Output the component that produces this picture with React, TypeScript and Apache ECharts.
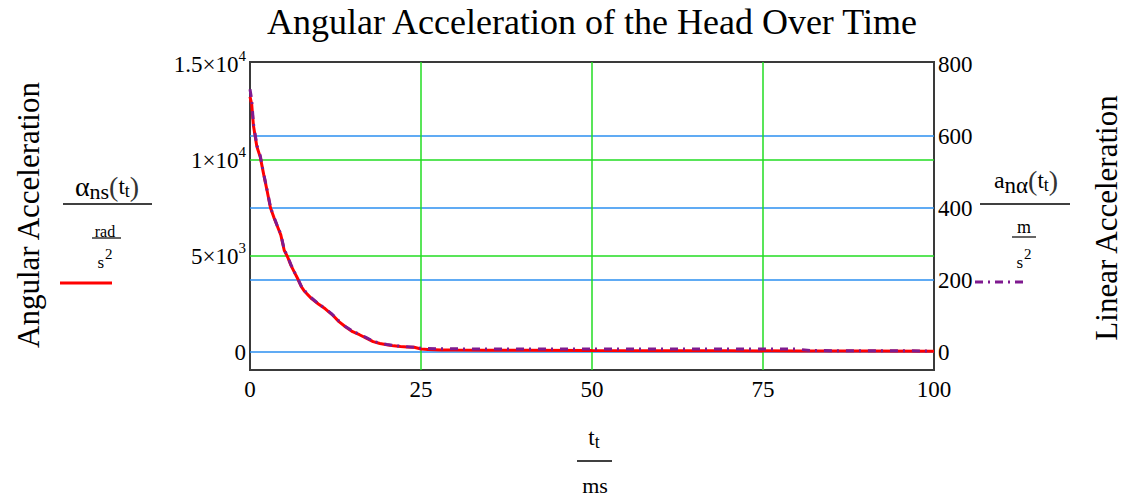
import React, { useEffect, useRef } from "react";
import * as echarts from "echarts";

// time in ms
const timeMs = [0, 0.25, 0.5, 1, 1.5, 2, 2.5, 3, 3.5, 4, 4.5, 5, 5.5, 6, 6.5, 7, 7.5, 8, 9, 10, 11, 12, 13, 14, 15, 16, 17, 18, 19, 20, 21, 22, 23, 24, 25, 26, 28, 30, 35, 40, 50, 60, 70, 80, 82, 90, 100];
// angular acceleration alpha_ns (rad/s^2), left axis
const angularAcc = [13300, 12900, 11800, 10700, 10150, 9250, 8400, 7500, 7000, 6550, 6100, 5300, 4950, 4500, 4150, 3800, 3400, 3150, 2780, 2500, 2250, 1950, 1580, 1300, 1060, 900, 720, 540, 440, 380, 320, 290, 265, 245, 160, 130, 110, 100, 90, 85, 75, 68, 62, 55, 54, 50, 45];
// linear acceleration a_n_alpha (m/s^2), right axis
const linearAcc = [730, 700, 635, 575, 545, 495, 450, 402, 375, 350, 328, 285, 265, 242, 222, 203, 183, 170, 150, 134, 121, 105, 86, 70, 58, 49, 40, 30, 25, 21, 18, 16, 14.5, 13, 10.5, 9.5, 9, 8.7, 8.5, 8.4, 8.3, 8.2, 8.1, 8, 4, 3.5, 3];

const xTicks = [0, 25, 50, 75, 100];
const leftTicks = [0, 5000, 10000, 15000];
const leftGridTicks = [5000, 10000];
const rightTicks = [0, 200, 400, 600, 800];
const rightGridTicks = [0, 200, 400, 600];

const titleText = "Angular Acceleration of the Head Over Time";
const leftTitle = "Angular Acceleration";
const rightTitle = "Linear Acceleration";

const FONT = "Liberation Serif, Times New Roman, serif";

function sciLabel(v: number): string {
  if (v === 0) return "{m|0}";
  const e = Math.floor(Math.log10(v));
  const m = +(v / Math.pow(10, e)).toFixed(2);
  return `{m|${m}×10}{s|${e}}`;
}

export default function App() {
  const ref = useRef<HTMLDivElement>(null);
  useEffect(() => {
    if (!ref.current) return;
    const chart = echarts.init(ref.current, null, { renderer: "svg" });
    const green = "#22dd22";
    const blue = "#2b8ff0";
    const sq = {
      s: { fontFamily: FONT, fontSize: 17, fill: "#000", padding: [6, 0, 0, 0] },
      e: { fontFamily: FONT, fontSize: 15, fill: "#000", padding: [0, 0, 10, 1] },
    };
    const option: any = {
      animation: false,
      backgroundColor: "#ffffff",
      title: {
        text: titleText,
        left: 592,
        top: 4,
        padding: 0,
        textAlign: "center",
        textStyle: { fontFamily: FONT, fontSize: 36, fontWeight: "normal", color: "#000" },
      },
      grid: {
        left: 250,
        top: 62,
        width: 684,
        height: 308,
        show: true,
        borderColor: "#3a3a3a",
        borderWidth: 2,
        backgroundColor: "transparent",
      },
      xAxis: {
        type: "value",
        min: xTicks[0],
        max: xTicks[xTicks.length - 1],
        interval: 25,
        axisLine: { show: false },
        axisTick: { show: false },
        axisLabel: { fontFamily: FONT, fontSize: 23, color: "#000", margin: 8 },
        splitLine: { show: true, showMinLine: false, showMaxLine: false, lineStyle: { color: green, width: 1.5 } },
      },
      yAxis: [
        {
          type: "value",
          min: -937.5,
          max: 15104.2,
          axisLine: { show: false },
          axisTick: { show: false, customValues: leftGridTicks },
          axisLabel: {
            customValues: leftTicks,
            margin: 4,
            fontFamily: FONT,
            formatter: (v: number) => sciLabel(v),
            rich: {
              m: { fontFamily: FONT, fontSize: 23, color: "#000" },
              s: { fontFamily: FONT, fontSize: 15, color: "#000", padding: [0, 0, 16, 0] },
            },
          },
          splitLine: { show: true, lineStyle: { color: green, width: 1.5 } },
        },
        {
          type: "value",
          min: -50,
          max: 805.56,
          position: "right",
          axisLine: { show: false },
          axisTick: { show: false, customValues: rightGridTicks },
          axisLabel: { customValues: rightTicks, margin: 4, fontFamily: FONT, fontSize: 23, color: "#000" },
          splitLine: { show: true, lineStyle: { color: blue, width: 1.5 } },
        },
      ],
      series: [
        {
          type: "line",
          yAxisIndex: 0,
          data: timeMs.map((t, i) => [t, angularAcc[i]]),
          showSymbol: false,
          lineStyle: { color: "#ff0000", width: 3 },
          z: 3,
        },
        {
          type: "line",
          yAxisIndex: 1,
          data: timeMs.map((t, i) => [t, linearAcc[i]]),
          showSymbol: false,
          lineStyle: { color: "#7f1a8f", width: 3, type: [8, 5, 2, 7] },
          z: 4,
        },
      ],
      graphic: [
        // axis titles
        { type: "text", x: 28, y: 215, rotation: Math.PI / 2, style: { text: leftTitle, fontFamily: FONT, fontSize: 31, fill: "#000", textAlign: "center", textVerticalAlign: "middle" } },
        { type: "text", x: 1106, y: 218, rotation: Math.PI / 2, style: { text: rightTitle, fontFamily: FONT, fontSize: 31, fill: "#000", textAlign: "center", textVerticalAlign: "middle" } },
        // left expression
        {
          type: "text", x: 107, y: 186,
          style: {
            text: "{a|α}{b|ns}{p|(}{c|t}{d|t}{p|)}",
            textAlign: "center", textVerticalAlign: "middle", fill: "#000",
            rich: {
              a: { fontFamily: FONT, fontSize: 28, fill: "#000" },
              b: { fontFamily: FONT, fontSize: 22, fill: "#000", padding: [10, 0, 0, 0] },
              p: { fontFamily: FONT, fontSize: 28, fill: "#333" },
              c: { fontFamily: FONT, fontSize: 23, fill: "#000" },
              d: { fontFamily: FONT, fontSize: 18, fill: "#000", padding: [10, 0, 0, 0] },
            },
          },
        },
        { type: "line", shape: { x1: 63, y1: 204, x2: 152, y2: 204 }, style: { stroke: "#000", lineWidth: 1.5 } },
        { type: "text", x: 105, y: 231, style: { text: "rad", fontFamily: FONT, fontSize: 16, fill: "#000", textAlign: "center", textVerticalAlign: "middle" } },
        { type: "line", shape: { x1: 92, y1: 238, x2: 121, y2: 238 }, style: { stroke: "#000", lineWidth: 1.2 } },
        {
          type: "text", x: 105, y: 259,
          style: { text: "{s|s}{e|2}", textAlign: "center", textVerticalAlign: "middle", rich: sq },
        },
        { type: "line", shape: { x1: 60, y1: 283, x2: 112, y2: 283 }, style: { stroke: "#ff0000", lineWidth: 3 } },
        // right expression
        {
          type: "text", x: 1026, y: 180,
          style: {
            text: "{a|a}{b|nα}{p|(}{c|t}{d|t}{p|)}",
            textAlign: "center", textVerticalAlign: "middle", fill: "#000",
            rich: {
              a: { fontFamily: FONT, fontSize: 24, fill: "#000" },
              b: { fontFamily: FONT, fontSize: 23, fill: "#000", padding: [10, 0, 0, 0] },
              p: { fontFamily: FONT, fontSize: 28, fill: "#333" },
              c: { fontFamily: FONT, fontSize: 23, fill: "#000" },
              d: { fontFamily: FONT, fontSize: 18, fill: "#000", padding: [10, 0, 0, 0] },
            },
          },
        },
        { type: "line", shape: { x1: 980, y1: 204, x2: 1070, y2: 204 }, style: { stroke: "#000", lineWidth: 1.5 } },
        { type: "text", x: 1024, y: 227, style: { text: "m", fontFamily: FONT, fontSize: 18, fill: "#000", textAlign: "center", textVerticalAlign: "middle" } },
        { type: "line", shape: { x1: 1012, y1: 237, x2: 1036, y2: 237 }, style: { stroke: "#000", lineWidth: 1.2 } },
        {
          type: "text", x: 1024, y: 259,
          style: { text: "{s|s}{e|2}", textAlign: "center", textVerticalAlign: "middle", rich: sq },
        },
        { type: "line", shape: { x1: 975, y1: 282, x2: 1027, y2: 282 }, style: { stroke: "#7f1a8f", lineWidth: 3, lineDash: [8, 5, 2, 5] } },
        // x axis expression
        {
          type: "text", x: 594, y: 437,
          style: {
            text: "{c|t}{d|t}", textAlign: "center", textVerticalAlign: "middle",
            rich: { c: { fontFamily: FONT, fontSize: 23, fill: "#000" }, d: { fontFamily: FONT, fontSize: 18, fill: "#000", padding: [10, 0, 0, 0] } },
          },
        },
        { type: "line", shape: { x1: 577, y1: 461, x2: 612, y2: 461 }, style: { stroke: "#000", lineWidth: 1.5 } },
        { type: "text", x: 595, y: 485, style: { text: "ms", fontFamily: FONT, fontSize: 22, fill: "#000", textAlign: "center", textVerticalAlign: "middle" } },
      ],
    };
    chart.setOption(option);
    return () => chart.dispose();
  }, []);
  return <div ref={ref} style={{ position: "absolute", left: 0, top: 0, width: 1124, height: 497, background: "#fff" }} />;
}
